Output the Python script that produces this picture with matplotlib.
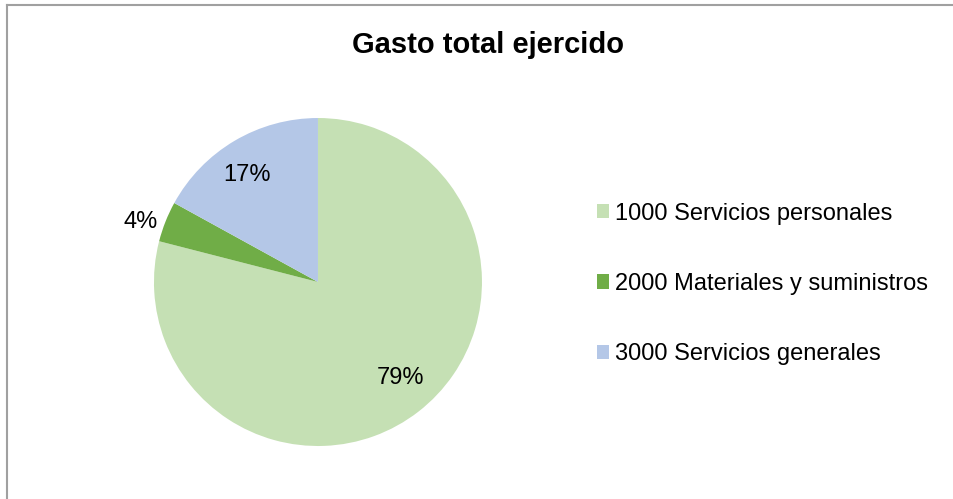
import matplotlib.pyplot as plt
from matplotlib.patches import Patch
from matplotlib.lines import Line2D
import numpy as np

# data
categories = ['1000 Servicios personales', '2000 Materiales y suministros', '3000 Servicios generales']
values = [79, 4, 17]
colors = ['#C5E0B4', '#70AD47', '#B4C7E7']

plt.rcParams['font.family'] = ['Liberation Sans', 'DejaVu Sans']

fig = plt.figure(figsize=(9.54, 4.99), dpi=100)
ax = fig.add_axes([0.1614, 0.1062, 0.3438, 0.6573])

wedges, texts, autotexts = ax.pie(values, colors=colors, startangle=90, counterclock=False,
                                  autopct='%1.0f%%', pctdistance=0.77,
                                  wedgeprops=dict(linewidth=0))

# label placement: inside for big slices, outside for the small one
dists = [0.77, 1.14, 0.78]
for w, t, d in zip(wedges, autotexts, dists):
    ang = np.deg2rad((w.theta1 + w.theta2) / 2 + 3)
    t.set_position((d * np.cos(ang), d * np.sin(ang)))
    t.set_fontsize(17)
    t.set_color('black')
    t.set_clip_on(False)

ax.set_xlim(-1, 1)
ax.set_ylim(-1, 1)
ax.set_aspect('equal')

fig.text(0.512, 0.91, 'Gasto total ejercido', ha='center', va='center',
         fontsize=21, fontweight='bold')

handles = [Patch(facecolor=c, edgecolor='none') for c in colors]
fig.legend(handles, categories, loc='center left', bbox_to_anchor=(0.603, 0.431),
           frameon=False, fontsize=17, handlelength=0.55, handleheight=0.55,
           handletextpad=0.25, labelspacing=2.05)

# chart frame (top and left edges visible)
fig.add_artist(Line2D([0.007, 1.0], [0.989, 0.989], color='#A0A0A0', lw=1.5, transform=fig.transFigure))
fig.add_artist(Line2D([0.007, 0.007], [0.0, 0.989], color='#A0A0A0', lw=1.5, transform=fig.transFigure))

fig.savefig('out.png', dpi=100)
